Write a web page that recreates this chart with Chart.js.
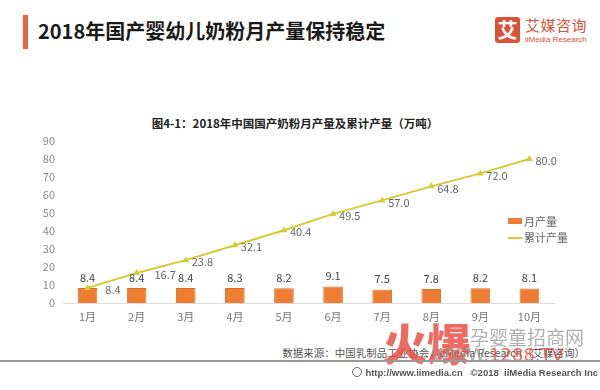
<!DOCTYPE html>
<html>
<head>
<meta charset="utf-8">
<script src="https://cdn.jsdelivr.net/npm/chart.js@4"></script>
<style>
  body { margin: 0; width: 600px; height: 390px; background: #fff; position: relative; overflow: hidden;
         font-family: "Noto Sans CJK SC", "Noto Sans", sans-serif; }
  .abs { position: absolute; white-space: nowrap; }
  #bar { left: 23px; top: 15px; width: 5px; height: 34px; background: #e8643c; }
  #title { left: 38px; top: 17px; font-size: 20px; font-weight: bold; color: #1a1a1a; line-height: 28px; }
  #logoBox { left: 495px; top: 17px; width: 25px; height: 26px; background: #d9533a; border-radius: 3px;
             color: #fff; font-size: 20px; font-weight: bold; text-align: center; line-height: 26px; }
  #logoCn { left: 525px; top: 16px; font-size: 15px; color: #d9533a; line-height: 18px; letter-spacing: 0.5px; }
  #logoEn { left: 525px; top: 35px; font-size: 8px; color: #d9533a; line-height: 9px; font-family: "Liberation Sans", sans-serif; }
  #subtitle { left: 0; width: 590px; text-align: center; top: 115px; font-size: 11.5px; font-weight: bold; color: #222; line-height: 16px; }
  #wrap { position: absolute; left: 0; top: 130px; width: 600px; height: 200px; }
  .leg { font-size: 11px; color: #666; line-height: 14px; }
  #wm1 { left: 383px; top: 314px; font-size: 44px; font-weight: 900; color: rgba(232, 70, 60, 0.8); line-height: 56px; }
  #wm2 { left: 470px; top: 326px; font-size: 19px; color: rgba(150, 150, 150, 0.75); line-height: 22px; }
  #wm3 { left: 432px; top: 345px; font-size: 18px; color: rgba(150, 150, 150, 0.75); line-height: 20px; font-family: "DejaVu Sans", sans-serif; }
  #wm3 span { color: rgba(232, 70, 60, 0.8); }
  #source { right: 15px; top: 345px; font-size: 10.5px; color: #555; line-height: 16px; }
  #rule { left: 0; top: 360px; width: 600px; height: 2px; background: #999; }
  #foot { right: 2px; top: 366px; font-size: 9.5px; color: #555; font-weight: bold; line-height: 14px; font-family: "Liberation Sans", sans-serif; }
  #foot i { display: inline-block; width: 8px; height: 8px; border: 1px solid #666; border-radius: 50%; margin-right: 3px; vertical-align: -1px; }
</style>
</head>
<body>
<div class="abs" id="bar"></div>
<div class="abs" id="title">2018年国产婴幼儿奶粉月产量保持稳定</div>
<div class="abs" id="logoBox">艾</div>
<div class="abs" id="logoCn">艾媒咨询</div>
<div class="abs" id="logoEn">iiMedia Research</div>
<div class="abs" id="subtitle">图4-1：2018年中国国产奶粉月产量及累计产量（万吨）</div>

<div id="wrap"><canvas id="myChart"></canvas></div>

<div class="abs leg" style="left:508px; top:214px;"><span style="display:inline-block;width:14px;height:6px;background:#ed7d31;vertical-align:2px;margin-right:2px;"></span>月产量</div>
<div class="abs leg" style="left:508px; top:230px;"><span style="display:inline-block;width:14px;height:2px;background:#d4cc34;vertical-align:3px;margin-right:2px;"></span>累计产量</div>

<div class="abs" id="source">数据来源：中国乳制品工业协会，iiMedia Research（艾媒咨询）</div>
<div class="abs" id="wm1">火爆</div>
<div class="abs" id="wm2">孕婴童招商网</div>
<div class="abs" id="wm3">WWW.<span>1288.TV</span></div>
<div class="abs" id="rule"></div>
<div class="abs" id="foot"><i></i>http://www.iimedia.cn &nbsp; ©2018 &nbsp;iiMedia Research Inc</div>

<script>
const months = ['1月', '2月', '3月', '4月', '5月', '6月', '7月', '8月', '9月', '10月'];
const monthly = [8.4, 8.4, 8.4, 8.3, 8.2, 9.1, 7.5, 7.8, 8.2, 8.1];
const cumulative = [8.4, 16.7, 23.8, 32.1, 40.4, 49.5, 57.0, 64.8, 72.0, 80.0];
const yMax = 90;
const yStep = 10;

const orange = '#ed7d31';
const yellow = '#d4cc34';

Chart.defaults.font.family = '"Noto Sans CJK SC", "Noto Sans", sans-serif';
Chart.defaults.font.size = 11;

// value labels, drawn by hand since there is no datalabels plugin here
const valueLabels = {
    id: 'valueLabels',
    afterDatasetsDraw(chart) {
        const ctx = chart.ctx;
        const bars = chart.getDatasetMeta(0).data;
        const pts = chart.getDatasetMeta(1).data;
        ctx.save();
        ctx.font = '11px "Noto Sans CJK SC", sans-serif';

        // bar values above bars
        ctx.fillStyle = '#444';
        ctx.textAlign = 'center';
        ctx.textBaseline = 'bottom';
        bars.forEach((b, i) => {
            ctx.fillText(monthly[i].toFixed(1), b.x, b.y - 5);
        });

        // line values to the right of the points
        ctx.fillStyle = '#666';
        ctx.textAlign = 'left';
        ctx.textBaseline = 'middle';
        pts.forEach((p, i) => {
            let x = p.x + 6;
            const b = bars[i];
            if (p.y + 2 > b.y - 20) {
                // keep clear of the bar and its label
                x = b.x + b.width / 2 + 8;
            }
            ctx.fillText(cumulative[i].toFixed(1), x, p.y + 2);
        });
        ctx.restore();
    }
};

const ctx = document.getElementById('myChart').getContext('2d');
const myChart = new Chart(ctx, {
    data: {
        labels: months,
        datasets: [{
            type: 'bar',
            label: '月产量',
            data: monthly,
            backgroundColor: orange,
            borderColor: '#e06f25',
            borderWidth: 1,
            barPercentage: 1,
            categoryPercentage: 0.4,
            order: 2
        }, {
            type: 'line',
            label: '累计产量',
            data: cumulative,
            borderColor: yellow,
            backgroundColor: yellow,
            borderWidth: 2,
            pointRadius: 2,
            pointStyle: 'triangle',
            fill: false,
            tension: 0,
            order: 1
        }]
    },
    options: {
        responsive: true,
        maintainAspectRatio: false,
        animation: false,
        layout: { padding: { top: 11, right: 46, bottom: 0, left: 0 } },
        plugins: {
            legend: { display: false },
            title: { display: false },
            tooltip: { enabled: false }
        },
        scales: {
            x: {
                grid: { display: false },
                border: { display: true, color: '#dcdcdc', width: 1 },
                ticks: { color: '#777', padding: -1, font: { size: 11 } },
                afterFit: s => { s.height = 27; }
            },
            y: {
                min: 0,
                max: yMax,
                grid: { display: false },
                border: { display: false },
                ticks: { stepSize: yStep, color: '#888', padding: 0, font: { size: 11 } },
                afterFit: s => { s.width = 63; }
            }
        }
    },
    plugins: [valueLabels]
});
</script>
</body>
</html>
